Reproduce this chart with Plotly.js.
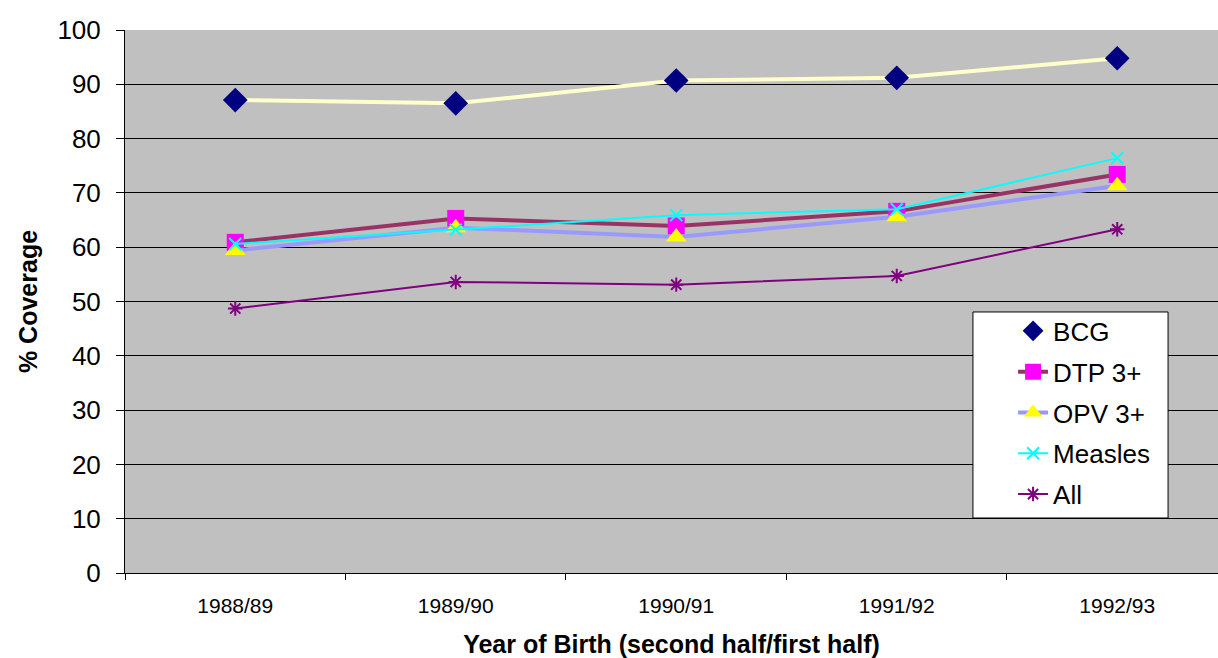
<!DOCTYPE html>
<html>
<head>
<meta charset="utf-8">
<script src="https://cdn.plot.ly/plotly-3.0.1.min.js"></script>
<style>html,body{margin:0;padding:0;background:#fff;}#chart{width:1218px;height:658px;}</style>
</head>
<body>
<div id="chart"></div>
<script>
const categories = ["1988/89", "1989/90", "1990/91", "1991/92", "1992/93"];
const bcg = [87.1, 86.5, 90.7, 91.2, 94.8];
const dtp = [60.9, 65.3, 63.9, 66.6, 73.4];
const opv = [59.4, 63.6, 61.9, 65.6, 71.3];
const measles = [60.6, 63.2, 65.9, 67.0, 76.4];
const all = [48.7, 53.6, 53.1, 54.7, 63.3];
const yTicks = [0, 10, 20, 30, 40, 50, 60, 70, 80, 90, 100];

const traces = [
  {name: "BCG", y: bcg, line: {color: "#FFFFCC", width: 4},
   marker: {symbol: "diamond", size: 19, color: "#000080"}},
  {name: "DTP 3+", y: dtp, line: {color: "#993366", width: 4},
   marker: {symbol: "square", size: 17, color: "#FF00FF"}},
  {name: "OPV 3+", y: opv, line: {color: "#9999FF", width: 4},
   marker: {symbol: "triangle-up", size: 18, color: "#FFFF00"}},
  {name: "Measles", y: measles, line: {color: "#00FFFF", width: 2},
   marker: {symbol: "x-thin-open", size: 12, color: "#00FFFF", line: {color: "#00FFFF", width: 2}}},
  {name: "All", y: all, line: {color: "#800080", width: 2},
   marker: {symbol: "asterisk-open", size: 12, color: "#800080", line: {color: "#800080", width: 2}}}
].map((t, i) => Object.assign({x: categories, type: "scatter", mode: "lines+markers", legendgroup: "g" + i}, t));

const layout = {
  width: 1218, height: 658,
  margin: {l: 125, r: 0, t: 30, b: 85},
  paper_bgcolor: "#FFFFFF",
  plot_bgcolor: "#C0C0C0",
  font: {family: "Arial, 'Liberation Sans', sans-serif", color: "#000"},
  xaxis: {
    type: "category",
    range: [-0.5, 4.457],
    tickson: "boundaries",
    ticks: "outside", ticklen: 6, tickcolor: "#000", tickwidth: 1,
    showline: true, linecolor: "#000", linewidth: 1,
    showgrid: false,
    tickfont: {size: 21},
    ticklabelstandoff: 14,
    title: {text: "Year of Birth (second half/first half)", font: {size: 25, weight: "bold"}, standoff: 21}
  },
  yaxis: {
    range: [0, 100],
    tickvals: yTicks,
    ticks: "outside", ticklen: 8, tickcolor: "#000",
    showline: true, linecolor: "#000", linewidth: 1,
    showgrid: true, gridcolor: "#000", gridwidth: 1,
    zeroline: false,
    tickfont: {size: 26},
    ticklabelstandoff: 10,
    title: {text: "% Coverage", font: {size: 25, weight: "bold"}, standoff: 12}
  },
  shapes: [
    {type: "rect", xref: "paper", yref: "paper", x0: 0.7758, x1: 0.9543, y0: 0.1013, y1: 0.4807,
     fillcolor: "#FFFFFF", line: {color: "#000", width: 1}, layer: "above"}
  ],
  legend: {
    x: 0.8125, y: 0.489, xanchor: "left", yanchor: "top",
    bgcolor: "rgba(0,0,0,0)", borderwidth: 0,
    font: {size: 26}, traceorder: "grouped", tracegroupgap: 4
  },
  showlegend: true
};

Plotly.newPlot("chart", traces, layout, {displayModeBar: false, staticPlot: true});
</script>
</body>
</html>
